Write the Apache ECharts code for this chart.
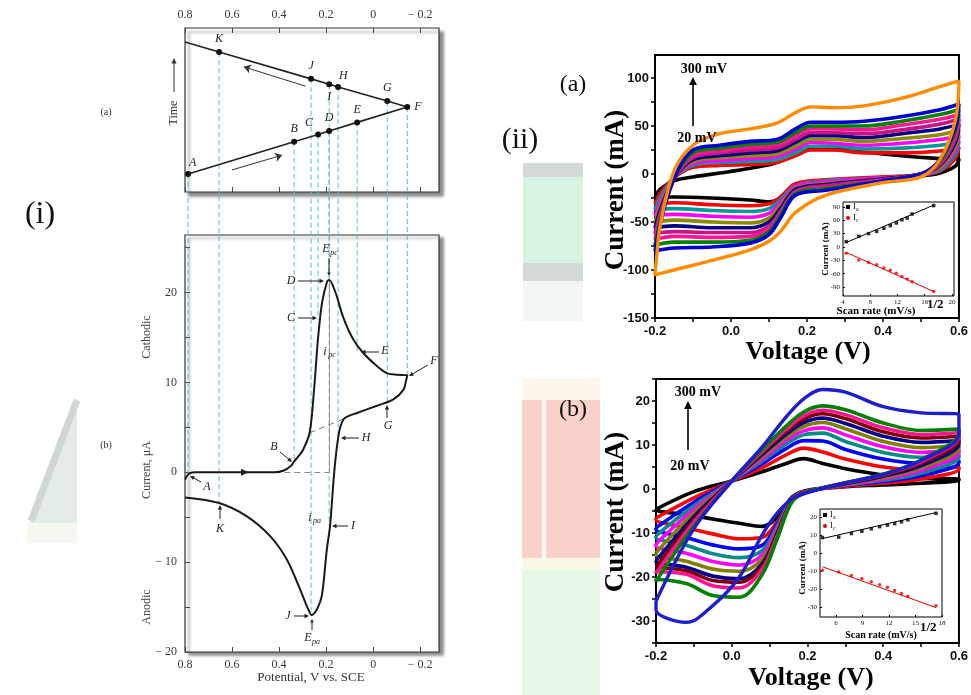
<!DOCTYPE html>
<html>
<head>
<meta charset="utf-8">
<title>Cyclic voltammetry</title>
<script src="https://cdn.jsdelivr.net/npm/echarts@6/dist/echarts.min.js"></script>
<style>
  html, body { margin: 0; padding: 0; background: #fff; }
  #main { width: 971px; height: 695px; }
</style>
</head>
<body>
<div id="main"></div>
<script>
// (i) 三角波扫描上的字母点
var letters = ['A', 'B', 'C', 'D', 'E', 'F', 'G', 'H', 'I', 'J', 'K'];
var letterPotential = [0.787, 0.336, 0.234, 0.187, 0.068, -0.145, -0.06, 0.149, 0.187, 0.264, 0.655];
var letterTime = [0, 0.48, 0.59, 0.64, 0.77, 1.0, 1.09, 1.30, 1.34, 1.42, 1.82];
var letterCurrent = [-0.3, 1.2, 17, 21.4, 13.3, 10.8, 7.8, 3.9, -5.9, -15.9, -3.3];
var sweepEnd = [0.8, 1.97];
var potentialTicks = [0.8, 0.6, 0.4, 0.2, 0, -0.2];

// (i) 循环伏安曲线 正扫 / 回扫
var fwdPotential = [0.8, 0.785, 0.76, 0.6, 0.42, 0.38, 0.35, 0.336, 0.32, 0.3, 0.27, 0.25, 0.234, 0.217, 0.196, 0.187, 0.16, 0.128, 0.085, 0.043, -0.017, -0.06, -0.1, -0.145];
var fwdCurrent = [-0.8, -0.2, 0, 0, 0, 0.2, 0.7, 1.2, 1.7, 2.4, 4.4, 9.6, 15, 18.9, 21.2, 21.4, 20, 17.3, 14.8, 13.3, 11.8, 11, 10.85, 10.8];
var revPotential = [-0.145, -0.14, -0.129, -0.086, -0.016, 0.069, 0.11, 0.126, 0.14, 0.148, 0.16, 0.169, 0.183, 0.197, 0.218, 0.24, 0.261, 0.28, 0.311, 0.367, 0.438, 0.537, 0.658, 0.8];
var revCurrent = [10.8, 10.2, 9.2, 8.1, 7.4, 6.6, 6.2, 5.9, 5, 4, 1.5, -1.1, -5.9, -8.6, -13.7, -15.3, -15.9, -15, -13, -9.7, -7.1, -4.9, -3.4, -2.8];
var currentTicks = [-20, -15, -10, -5, 0, 5, 10, 15, 20, 25];
var currentLabels = [-20, -10, 0, 10, 20];

// (ii) 扫速
var scanRates = [20, 40, 60, 80, 100, 120, 140, 160, 180, 200, 300];
var colorsA = ['#000000', '#ff0000', '#009999', '#ff00ff', '#8b8b00', '#000080', '#c71585', '#ff1493', '#008000', '#0000cd', '#ff8c00'];
var colorsB = ['#000000', '#ff0000', '#0000ff', '#008b8b', '#ff00ff', '#808000', '#00008b', '#800000', '#ff1493', '#008000', '#1e1ecd'];

// (ii)(a)
var aAnodicV = [-0.19, -0.15, -0.1, -0.03, 0.05, 0.12, 0.17, 0.21, 0.27, 0.35, 0.45, 0.55, 0.6];
var aAnodic = [
  [-17, -7, -3, 1, 6, 12, 22, 28, 27, 23, 19, 16, 15],
  [-22, -4, 7, 9, 10, 12, 19, 25, 25, 22, 22, 24, 28],
  [-27, -4, 9, 12, 13, 15, 22, 29, 29, 26, 27, 30, 34],
  [-32, -4, 11, 14, 16, 18, 26, 33, 32, 30, 32, 36, 40],
  [-37, -4, 13, 17, 19, 21, 29, 36, 36, 34, 37, 41, 46],
  [-42, -5, 15, 19, 22, 24, 33, 40, 40, 38, 42, 47, 52],
  [-46, -5, 17, 22, 25, 27, 36, 43, 43, 42, 46, 52, 57],
  [-50, -5, 19, 24, 28, 30, 40, 47, 47, 46, 51, 57, 62],
  [-54, -5, 22, 27, 31, 33, 43, 50, 50, 50, 55, 62, 67],
  [-58, -5, 25, 30, 34, 36, 47, 54, 54, 55, 60, 67, 73],
  [-62, 3, 30, 42, 47, 53, 64, 70, 69, 71, 79, 91, 97]
];
var aCathodicV = [0.59, 0.55, 0.5, 0.4, 0.25, 0.17, 0.13, 0.1, 0.05, -0.05, -0.15, -0.2];
var aCathodic = [
  [8, 1, -2, -4, -7, -12, -25, -29, -27, -25, -24, -24],
  [16, 3, -1, -3, -6, -10, -24, -31, -33, -32, -30, -31],
  [20, 4, -1, -4, -7, -12, -27, -36, -39, -38, -36, -37],
  [24, 6, -1, -4, -8, -13, -30, -41, -45, -44, -42, -43],
  [28, 7, 0, -5, -10, -15, -33, -46, -51, -50, -48, -50],
  [32, 9, 0, -5, -11, -16, -36, -50, -56, -56, -54, -56],
  [36, 10, 0, -6, -12, -18, -39, -54, -61, -61, -60, -62],
  [40, 12, 0, -6, -14, -19, -41, -57, -65, -66, -65, -68],
  [44, 13, 0, -7, -15, -20, -43, -60, -69, -71, -71, -74],
  [48, 15, 0, -7, -17, -22, -46, -63, -72, -76, -77, -80],
  [55, 15, -3, -9, -22, -40, -60, -70, -79, -90, -100, -105]
];

// (ii)(b)
var bAnodicV = [-0.2, -0.1, 0.0, 0.08, 0.14, 0.19, 0.24, 0.3, 0.4, 0.5, 0.6];
var bAnodic = [
  [-4.6, -0.6, 1.8, 3.9, 5.7, 6.9, 5.8, 4.6, 3.2, 2.4, 2.3],
  [-6.6, -2.0, 1.8, 4.8, 7.6, 9.3, 8.4, 6.8, 5.0, 4.3, 5.0],
  [-8.8, -3.0, 1.8, 5.7, 9.0, 11.0, 10.9, 9.0, 6.8, 5.8, 6.5],
  [-10.6, -3.8, 1.8, 6.3, 10.0, 12.3, 12.7, 10.8, 8.3, 7.2, 7.8],
  [-12.5, -4.6, 1.8, 6.8, 10.8, 13.2, 13.9, 12.3, 9.6, 8.3, 9.0],
  [-14.5, -5.4, 1.8, 7.3, 11.5, 14.2, 15.1, 13.7, 10.8, 9.4, 10.0],
  [-16.3, -6.3, 1.8, 7.8, 12.2, 15.1, 16.1, 14.9, 12.0, 10.6, 11.0],
  [-17.8, -7.0, 1.8, 8.2, 12.8, 15.9, 17.1, 16.0, 13.0, 11.6, 12.0],
  [-19.2, -7.6, 1.8, 8.5, 13.3, 16.6, 17.9, 16.9, 13.9, 12.4, 12.8],
  [-21.0, -8.4, 1.8, 8.9, 14.0, 17.5, 18.9, 18.0, 15.0, 13.3, 13.6],
  [-25.5, -9.0, 1.8, 9.5, 16.0, 20.5, 22.6, 22.0, 18.7, 17.3, 17.0]
];
var bCathodicV = [0.6, 0.5, 0.4, 0.3, 0.2, 0.16, 0.12, 0.08, 0.02, -0.05, -0.12, -0.2];
var bCathodic = [
  [2.0, 1.3, 0.9, 0.5, -0.3, -1.8, -6.5, -8.5, -7.8, -6.8, -5.8, -4.8],
  [4.5, 2.3, 1.3, 0.6, -0.4, -2.0, -7.5, -11.0, -11.3, -10.2, -8.8, -7.0],
  [6.0, 3.0, 1.7, 0.8, -0.5, -2.1, -8.0, -12.8, -13.6, -12.7, -11.0, -9.2],
  [7.2, 3.6, 2.0, 0.9, -0.5, -2.2, -8.5, -14.0, -15.6, -14.7, -12.8, -11.0],
  [8.3, 4.2, 2.3, 1.0, -0.6, -2.3, -9.0, -15.0, -17.3, -16.5, -14.6, -13.0],
  [9.3, 4.8, 2.6, 1.1, -0.6, -2.4, -9.5, -16.0, -18.7, -18.2, -16.4, -15.0],
  [10.3, 5.3, 2.9, 1.2, -0.6, -2.5, -10.0, -17.0, -20.4, -19.8, -17.8, -16.5],
  [11.2, 5.8, 3.1, 1.3, -0.7, -2.6, -10.4, -17.6, -21.2, -20.8, -18.6, -17.8],
  [12.0, 6.2, 3.3, 1.4, -0.7, -2.7, -10.8, -18.3, -22.5, -22.0, -19.4, -18.8],
  [12.8, 6.6, 3.4, 1.4, -0.7, -2.8, -11.3, -19.5, -24.6, -24.2, -21.5, -20.5],
  [12.5, 6.5, 3.3, 1.4, -0.8, -2.2, -5.5, -10.5, -20.0, -26.5, -30.3, -27.5]
];
var cvLabelsA = [-150, -100, -50, 0, 50, 100];
var cvTicksA = [-150, -125, -100, -75, -50, -25, 0, 25, 50, 75, 100];
var cvLabelsB = [-30, -20, -10, 0, 10, 20];
var cvTicksB = [-35, -30, -25, -20, -15, -10, -5, 0, 5, 10, 15, 20, 25];
var voltLabels = [-0.2, 0, 0.2, 0.4, 0.6];
var voltTicks = [-0.2, -0.1, 0, 0.1, 0.2, 0.3, 0.4, 0.5, 0.6];

// 插图：峰电流 vs 扫速^1/2
var sqrtRate = [4.47, 6.32, 7.75, 8.94, 10.0, 10.95, 11.83, 12.65, 13.42, 14.14, 17.32];
var aIa = [12, 24, 30, 35, 42, 48, 54, 61, 65, 74, 93];
var aIc = [-14, -29, -35, -40, -47, -52, -59, -66, -72, -78, -100];
var bIa = [8.6, 8.8, 10.8, 12.1, 13.4, 14.6, 15.5, 16.3, 17.3, 18.4, 22.0];
var bIc = [-9.6, -10.5, -12.5, -14.1, -16.0, -17.6, -19.0, -20.8, -22.5, -24.0, -29.3];
var fitX = [4.47, 17.32];
var aFitIa = [10, 94];
var aFitIc = [-12, -100];
var bFitIa = [8.0, 22.4];
var bFitIc = [-7.6, -30.3];
var insetTicksAx = [4, 8, 12, 16, 20];
var insetTicksAy = [-90, -60, -30, 0, 30, 60, 90];
var insetTicksBx = [6, 9, 12, 15, 18];
var insetTicksBy = [-30, -20, -10, 0, 10, 20];

(function () {
  var chart = echarts.init(document.getElementById('main'));
  var serif = '"Liberation Serif", "DejaVu Serif", serif';
  var sans = '"Liberation Sans", Arial, sans-serif';

  function potentialLabel(v) {
    if (Math.abs(v) < 1e-9) return '0';
    return v < 0 ? '\u2212 ' + Math.abs(v).toFixed(1) : v.toFixed(1);
  }
  function pairs(xs, ys) {
    return xs.map(function (x, k) { return [x, ys[k]]; });
  }
  function loopData(vUp, iUp, vDown, iDown) {
    var d = pairs(vUp, iUp).concat(pairs(vDown, iDown));
    d.push(d[0]);
    return d;
  }

  var leftLabel = { fontFamily: serif, fontSize: 12, color: '#3a3a3a' };
  var leftTick = { inside: true, length: 5, lineStyle: { color: '#444' } };
  var noLine = { show: false, onZero: false };

  // (i) 电位轴（反向）
  function potentialAxis(grid, pos, showLabel) {
    return {
      gridIndex: grid, type: 'value', position: pos, inverse: true, min: -0.28, max: 0.8,
      axisLine: noLine, splitLine: { show: false },
      axisTick: Object.assign({ customValues: potentialTicks }, leftTick),
      axisLabel: Object.assign({ show: showLabel, customValues: potentialTicks, formatter: potentialLabel, margin: 7 }, leftLabel)
    };
  }
  function cvXAxis(grid) {
    return {
      gridIndex: grid, type: 'value', min: -0.2, max: 0.6,
      axisLine: noLine, splitLine: { show: false },
      axisTick: { length: 4, customValues: voltTicks, lineStyle: { color: '#000', width: 1.5 } },
      axisLabel: {
        customValues: voltLabels, margin: 7, fontFamily: sans, fontWeight: 'bold', fontSize: 13, color: '#111',
        formatter: function (v) { return Math.abs(v) < 1e-9 ? '0.0' : v.toFixed(1); }
      }
    };
  }
  function cvYAxis(grid, min, max, ticks, labels) {
    return {
      gridIndex: grid, type: 'value', min: min, max: max,
      axisLine: noLine, splitLine: { show: false },
      axisTick: { length: 4, customValues: ticks, lineStyle: { color: '#000', width: 1.5 } },
      axisLabel: { customValues: labels, margin: 6, fontFamily: sans, fontWeight: 'bold', fontSize: 13, color: '#111' }
    };
  }
  function insetAxis(grid, min, max, ticks) {
    return {
      gridIndex: grid, type: 'value', min: min, max: max,
      axisLine: noLine, splitLine: { show: false },
      axisTick: { inside: true, length: 2, customValues: ticks, lineStyle: { color: '#000' } },
      axisLabel: { customValues: ticks, margin: 3, fontFamily: serif, fontSize: 7, color: '#111' }
    };
  }

  var series = [];

  // (i) 电位-时间
  var sweepData = letters.map(function (l, k) {
    var pos = 'top';
    if (l === 'I') pos = 'bottom';
    if (l === 'F') pos = 'right';
    if (l === 'H' || l === 'A') pos = [4, -14];
    if (l === 'C') pos = [-10, -15];
    return { name: l, value: [letterPotential[k], letterTime[k]], label: { position: pos } };
  });
  sweepData.push({ name: '', value: sweepEnd, symbol: 'none', label: { show: false } });
  series.push({
    name: 'sweep', type: 'line', xAxisIndex: 0, yAxisIndex: 0, data: sweepData,
    symbol: 'circle', symbolSize: 6, itemStyle: { color: '#111' },
    lineStyle: { color: '#222', width: 1.6 },
    label: { show: true, formatter: '{b}', fontFamily: serif, fontStyle: 'italic', fontSize: 12, color: '#222', distance: 4 },
    silent: true, z: 5
  });
  series.push({
    name: 'direction', type: 'line', xAxisIndex: 0, yAxisIndex: 0, data: [], silent: true,
    markLine: {
      silent: true, symbol: ['none', 'arrow'], symbolSize: 7, label: { show: false },
      lineStyle: { color: '#333', width: 1, type: 'solid' },
      data: [
        [{ coord: [0.287, 1.31] }, { coord: [0.55, 1.60] }],
        [{ coord: [0.6, 0.06] }, { coord: [0.387, 0.28] }]
      ]
    }
  });

  // (i) 循环伏安曲线
  series.push({
    name: 'cv', type: 'line', xAxisIndex: 2, yAxisIndex: 1,
    data: pairs(fwdPotential, fwdCurrent).concat(pairs(revPotential, revCurrent)),
    smooth: 0.3, showSymbol: false, lineStyle: { color: '#1a1a1a', width: 2 }, silent: true, z: 5,
    markLine: {
      silent: true, symbol: 'none', label: { show: false },
      data: [
        [{ coord: [0.27, 4.4], lineStyle: { type: [6, 4], color: '#777', width: 1 } }, { coord: [0.128, 5.9] }],
        [{ coord: [0.42, 0], lineStyle: { type: [6, 4], color: '#888', width: 1 } }, { coord: [0.185, 0] }],
        [{ coord: [0.187, 21.4], lineStyle: { type: 'solid', color: '#999', width: 1 } }, { coord: [0.187, 0] }]
      ]
    },
    markPoint: {
      silent: true, symbol: 'triangle', symbolSize: [7, 8], symbolRotate: -90,
      itemStyle: { color: '#222' }, label: { show: false },
      data: [{ coord: [0.545, 0] }]
    }
  });

  // (ii)(a)/(b) 不同扫速的 CV 环
  scanRates.forEach(function (r, k) {
    series.push({
      name: r + ' mV/s a', type: 'line', xAxisIndex: 3, yAxisIndex: 2,
      data: loopData(aAnodicV, aAnodic[k], aCathodicV, aCathodic[k]),
      smooth: 0.35, showSymbol: false, silent: true,
      lineStyle: { color: colorsA[k], width: k === 10 ? 3.4 : 3.6 }
    });
    series.push({
      name: r + ' mV/s b', type: 'line', xAxisIndex: 5, yAxisIndex: 4,
      data: loopData(bAnodicV, bAnodic[k], bCathodicV, bCathodic[k]),
      smooth: 0.35, showSymbol: false, silent: true,
      lineStyle: { color: colorsB[k], width: k === 10 ? 3.4 : 3.6 }
    });
  });

  // 插图
  function insetSeries(xi, yi, ia, ic, fitIa, fitIc) {
    series.push({ type: 'line', xAxisIndex: xi, yAxisIndex: yi, data: pairs(fitX, fitIa), showSymbol: false, silent: true, lineStyle: { color: '#000', width: 1 } });
    series.push({ type: 'line', xAxisIndex: xi, yAxisIndex: yi, data: pairs(fitX, fitIc), showSymbol: false, silent: true, lineStyle: { color: '#e00', width: 1 } });
    series.push({ type: 'scatter', xAxisIndex: xi, yAxisIndex: yi, data: pairs(sqrtRate, ia), symbol: 'rect', symbolSize: 3.5, itemStyle: { color: '#000' }, silent: true });
    series.push({ type: 'scatter', xAxisIndex: xi, yAxisIndex: yi, data: pairs(sqrtRate, ic), symbol: 'circle', symbolSize: 3.5, itemStyle: { color: '#e00' }, silent: true });
  }
  insetSeries(4, 3, aIa, aIc, aFitIa, aFitIc);
  insetSeries(6, 5, bIa, bIc, bFitIa, bFitIc);

  var option = {
    animation: false,
    backgroundColor: '#fff',
    grid: [
      { left: 185, top: 28, width: 254, height: 164, show: true, backgroundColor: '#fff', borderColor: '#333', borderWidth: 1.2,
        shadowColor: 'rgba(0,0,0,0.45)', shadowBlur: 3, shadowOffsetX: 4, shadowOffsetY: 4 },
      { left: 185, top: 235, width: 254, height: 417, show: true, backgroundColor: '#fff', borderColor: '#333', borderWidth: 1.2,
        shadowColor: 'rgba(0,0,0,0.45)', shadowBlur: 3, shadowOffsetX: 4, shadowOffsetY: 3 },
      { left: 655, top: 55, width: 307, height: 263, show: true, borderColor: '#000', borderWidth: 2 },
      { left: 843, top: 202, width: 111, height: 94, show: true, backgroundColor: '#fff', borderColor: '#000', borderWidth: 1 },
      { left: 656, top: 379, width: 311, height: 264, show: true, borderColor: '#000', borderWidth: 2 },
      { left: 820, top: 509, width: 122, height: 108, show: true, backgroundColor: '#fff', borderColor: '#000', borderWidth: 1 }
    ],
    xAxis: [
      potentialAxis(0, 'top', true),
      potentialAxis(0, 'bottom', false),
      potentialAxis(1, 'bottom', true),
      cvXAxis(2),
      insetAxis(3, 4, 20.3, insetTicksAx),
      cvXAxis(4),
      insetAxis(5, 4.2, 18, insetTicksBx)
    ],
    yAxis: [
      { gridIndex: 0, type: 'value', min: -0.27, max: 2.18, show: false },
      {
        gridIndex: 1, type: 'value', min: -20, max: 26.4,
        axisLine: noLine, splitLine: { show: false },
        axisTick: Object.assign({ customValues: currentTicks }, leftTick),
        axisLabel: Object.assign({
          customValues: currentLabels, margin: 8,
          formatter: function (v) { return v < 0 ? '\u2212 ' + (-v) : String(v); }
        }, leftLabel)
      },
      cvYAxis(2, -150, 124, cvTicksA, cvLabelsA),
      insetAxis(3, -110, 101, insetTicksAy),
      cvYAxis(4, -35, 25, cvTicksB, cvLabelsB),
      insetAxis(5, -35.5, 24.4, insetTicksBy)
    ],
    series: series
  };
  chart.setOption(option);

  // ---- 图形标注 ----
  function txt(x, y, s, font, opts) {
    opts = opts || {};
    return {
      type: 'text', x: x, y: y, z: 100, rotation: opts.rotation || 0, silent: true,
      style: {
        text: s, font: font, fill: opts.fill || '#222',
        textAlign: opts.align || 'center', textVerticalAlign: 'middle',
        align: opts.align || 'center', verticalAlign: 'middle'
      }
    };
  }
  function arrow(x1, y1, x2, y2, color, w, h) {
    var ang = Math.atan2(y2 - y1, x2 - x1);
    h = h || 5;
    var p1 = [x2 - h * Math.cos(ang - 0.45), y2 - h * Math.sin(ang - 0.45)];
    var p2 = [x2 - h * Math.cos(ang + 0.45), y2 - h * Math.sin(ang + 0.45)];
    return [
      { type: 'line', z: 100, silent: true, shape: { x1: x1, y1: y1, x2: x2 - h * 0.6 * Math.cos(ang), y2: y2 - h * 0.6 * Math.sin(ang) },
        style: { stroke: color, lineWidth: w } },
      { type: 'polygon', z: 100, silent: true, shape: { points: [[x2, y2], p1, p2] }, style: { fill: color } }
    ];
  }
  function rect(x, y, w, h, fill, z) {
    return { type: 'rect', z: z || 0, silent: true, shape: { x: x, y: y, width: w, height: h }, style: { fill: fill } };
  }

  var it = 'italic 12px ' + serif;
  var sub = 'italic 8px ' + serif;
  var g = [];

  // 背景水印
  g.push({ type: 'polygon', z: 0, silent: true, shape: { points: [[30, 523], [77, 398], [77, 523]] }, style: { fill: '#e3ece6' } });
  g.push({ type: 'line', z: 0, silent: true, shape: { x1: 31, y1: 521, x2: 77, y2: 400 }, style: { stroke: '#d0d6d3', lineWidth: 7 } });
  g.push(rect(27, 523, 50, 20, '#f6f8ef'));
  g.push(rect(523, 163, 60, 14, '#d3d9d8'));
  g.push(rect(523, 177, 60, 86, '#d9f3e2'));
  g.push(rect(523, 263, 60, 18, '#d3d9d8'));
  g.push(rect(523, 281, 60, 40, '#f2f7f5'));
  g.push(rect(522, 378, 78, 22, '#fdf6ea'));
  g.push(rect(522, 400, 20, 158, '#fad2cb'));
  g.push(rect(546, 400, 54, 158, '#fad2cb'));
  g.push(rect(522, 558, 78, 12, '#fbf7e6'));
  g.push(rect(522, 570, 78, 125, '#e8f6e8'));

  // 面板标签
  g.push(txt(40, 215, '(i)', '32px ' + serif, { fill: '#111' }));
  g.push(txt(520, 140, '(ii)', '30px ' + serif, { fill: '#111' }));
  g.push(txt(573, 85, '(a)', '24px ' + serif, { fill: '#111' }));
  g.push(txt(573, 410, '(b)', '24px ' + serif, { fill: '#111' }));
  g.push(txt(106, 112, '(a)', '10px ' + serif, { fill: '#333' }));
  g.push(txt(106, 445, '(b)', '10px ' + serif, { fill: '#333' }));

  // (i) 坐标轴标题
  g.push(txt(174, 113, 'Time', '12px ' + serif, { rotation: Math.PI / 2, fill: '#333' }));
  g = g.concat(arrow(174, 92, 174, 58, '#333', 1, 6));
  g.push(txt(147, 337, 'Cathodic', '12px ' + serif, { rotation: Math.PI / 2, fill: '#444' }));
  g.push(txt(147, 470, 'Current, \u03bcA', '12px ' + serif, { rotation: Math.PI / 2, fill: '#444' }));
  g.push(txt(147, 607, 'Anodic', '12px ' + serif, { rotation: Math.PI / 2, fill: '#444' }));
  g.push(txt(311, 678, 'Potential, V vs. SCE', '13px ' + serif, { fill: '#333' }));

  // (i) 曲线上的字母标注
  g.push(txt(326, 249, 'E', it)); g.push(txt(334, 253, 'pc', sub));
  g = g.concat(arrow(329, 258, 329, 276, '#222', 1, 4));
  g.push(txt(291, 281, 'D', it)); g = g.concat(arrow(298, 281, 324, 281, '#222', 1, 5));
  g.push(txt(291, 318, 'C', it)); g = g.concat(arrow(298, 318, 317, 318, '#222', 1, 5));
  g.push(txt(325, 352, 'i', it)); g.push(txt(332, 355, 'pc', sub));
  g.push(txt(385, 351, 'E', it)); g = g.concat(arrow(379, 352, 361, 352, '#222', 1, 5));
  g.push(txt(434, 361, 'F', it)); g = g.concat(arrow(428, 365, 409, 376, '#222', 1, 5));
  g.push(txt(388, 426, 'G', it)); g = g.concat(arrow(387, 418, 387, 405, '#222', 1, 5));
  g.push(txt(366, 438, 'H', it)); g = g.concat(arrow(359, 438, 341, 438, '#222', 1, 5));
  g.push(txt(274, 447, 'B', it)); g = g.concat(arrow(280, 452, 292, 462, '#222', 1, 5));
  g.push(txt(207, 487, 'A', it)); g = g.concat(arrow(201, 482, 190, 476, '#222', 1, 5));
  g.push(txt(310, 518, 'i', it)); g.push(txt(317, 521, 'pa', sub));
  g.push(txt(220, 529, 'K', it)); g = g.concat(arrow(220, 519, 220, 505, '#222', 1, 5));
  g.push(txt(353, 526, 'I', it)); g = g.concat(arrow(348, 526, 332, 526, '#222', 1, 5));
  g.push(txt(288, 616, 'J', it)); g = g.concat(arrow(294, 616, 309, 616, '#222', 1, 5));
  g.push(txt(308, 638, 'E', it)); g.push(txt(316, 642, 'pa', sub));
  g = g.concat(arrow(312, 630, 312, 619, '#222', 1, 4));

  // (ii) 坐标轴标题与扫速注释
  var bigBold = 'bold 27px ' + serif;
  g.push(txt(616, 190, 'Current (mA)', bigBold, { rotation: Math.PI / 2, fill: '#000' }));
  g.push(txt(616, 512, 'Current (mA)', bigBold, { rotation: Math.PI / 2, fill: '#000' }));
  g.push(txt(808, 352, 'Voltage (V)', 'bold 26px ' + serif, { fill: '#000' }));
  g.push(txt(811, 678, 'Voltage (V)', 'bold 26px ' + serif, { fill: '#000' }));
  var mv = 'bold 14px ' + serif;
  g.push(txt(704, 69, '300 mV', mv, { fill: '#000' }));
  g.push(txt(697, 138, '20 mV', mv, { fill: '#000' }));
  g = g.concat(arrow(693, 126, 693, 77, '#000', 1.6, 9));
  g.push(txt(698, 392, '300 mV', mv, { fill: '#000' }));
  g.push(txt(690, 466, '20 mV', mv, { fill: '#000' }));
  g = g.concat(arrow(688, 450, 688, 401, '#000', 1.6, 9));

  // 插图标题与图例
  function insetLabels(cy, yLabX, xLabX, xLabY, xFont, supX, supY, legX, legY) {
    g.push(txt(yLabX, cy, 'Current (mA)', 'bold 9px ' + serif, { rotation: Math.PI / 2, fill: '#000' }));
    g.push(txt(xLabX, xLabY, 'Scan rate (mV/s)', xFont, { fill: '#000' }));
    g.push(txt(supX, supY, '1/2', 'bold 13px ' + serif, { fill: '#000', align: 'left' }));
    g.push(rect(legX, legY - 2, 4, 4, '#000', 100));
    g.push(txt(legX + 7, legY, 'I', '8px ' + serif, { fill: '#000', align: 'left' }));
    g.push(txt(legX + 10, legY + 2, 'a', '6px ' + serif, { fill: '#000', align: 'left' }));
    g.push({ type: 'circle', z: 100, silent: true, shape: { cx: legX + 2, cy: legY + 11, r: 2 }, style: { fill: '#e00' } });
    g.push(txt(legX + 7, legY + 11, 'I', '8px ' + serif, { fill: '#000', align: 'left' }));
    g.push(txt(legX + 10, legY + 13, 'c', '6px ' + serif, { fill: '#000', align: 'left' }));
  }
  insetLabels(249, 826, 876, 311, 'bold 11px ' + serif, 927, 305, 846, 207);
  insetLabels(568, 803, 881, 635, 'bold 10px ' + serif, 920, 628, 823, 515);

  // (i) 两图之间的蓝色虚线
  letters.forEach(function (l, k) {
    var p1 = chart.convertToPixel({ xAxisIndex: 0, yAxisIndex: 0 }, [letterPotential[k], letterTime[k]]);
    var p2 = chart.convertToPixel({ xAxisIndex: 2, yAxisIndex: 1 }, [letterPotential[k], letterCurrent[k]]);
    g.push({
      type: 'line', z: 1, silent: true,
      shape: { x1: p1[0], y1: p1[1], x2: p2[0], y2: p2[1] },
      style: { stroke: '#62b9d8', lineWidth: 1, lineDash: [5, 3] }
    });
  });

  chart.setOption({ graphic: g });

  window.addEventListener('resize', function () {
    chart.resize();
  });
})();
</script>
</body>
</html>
